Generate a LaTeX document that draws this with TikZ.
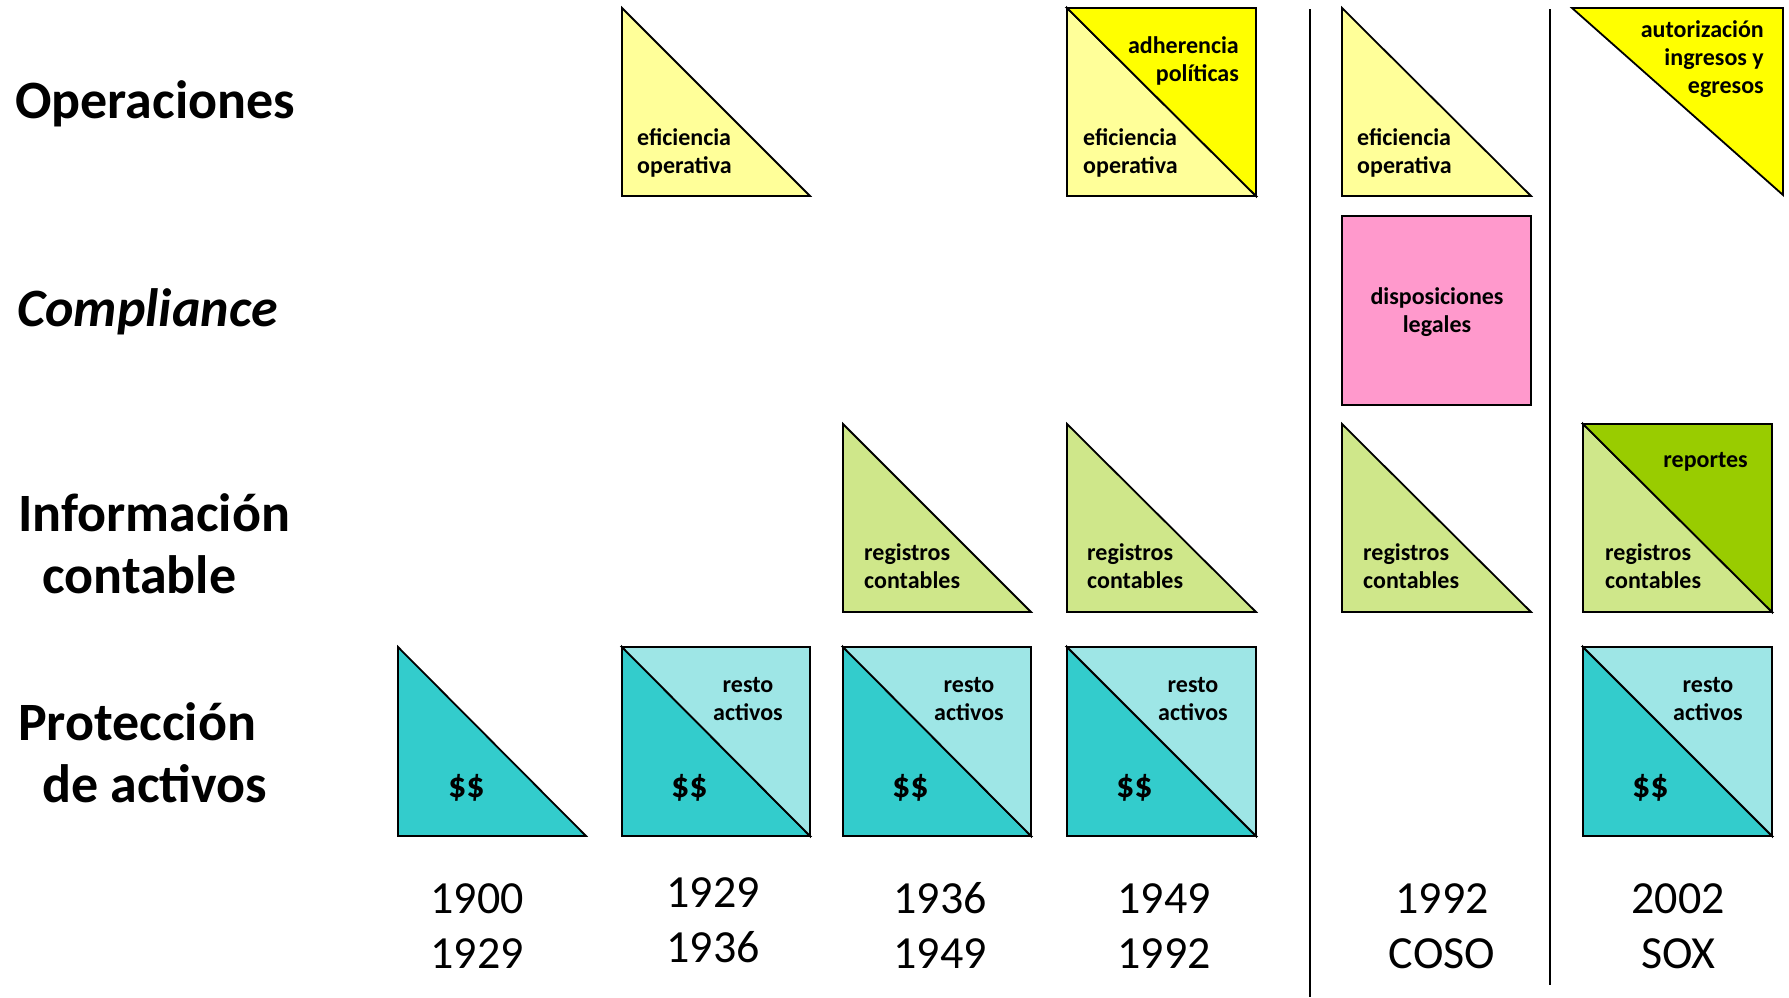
\documentclass[tikz,border=0pt]{standalone}
\usepackage{fontspec}
\setmainfont{Carlito}
\definecolor{lyellow}{HTML}{FFFF99}
\definecolor{yyellow}{HTML}{FFFF00}
\definecolor{ppink}{HTML}{FF99CC}
\definecolor{lgreen}{HTML}{CFE78A}
\definecolor{dgreen}{HTML}{99CC00}
\definecolor{teal1}{HTML}{33CCCC}
\definecolor{lteal}{HTML}{9EE6E6}
\tikzset{
  box/.style={draw=black, line width=1.8pt},
  lbl/.style={font=\fontsize{54}{62}\selectfont\bfseries, inner sep=0pt, anchor=base west, align=left},
  intxt/.style={font=\fontsize{24}{28}\selectfont\bfseries, inner sep=0pt},
  yr/.style={font=\fontsize{46}{55}\selectfont, inner sep=0pt, anchor=base, align=center},
  money/.style={font=\fontsize{36}{40}\selectfont\bfseries, inner sep=0pt, anchor=base west},
  sep/.style={draw=black, line width=1.6pt},
}
% lower-left triangle: L, T, R, B, colour
\newcommand\LoTri[5]{\filldraw[box, fill=#5] (#1,#2) -- (#1,#4) -- (#3,#4) -- cycle;}
% upper-right triangle: L, T, R, B, colour
\newcommand\UpTri[5]{\filldraw[box, fill=#5] (#1,#2) -- (#3,#2) -- (#3,#4) -- cycle;}
\begin{document}
\begin{tikzpicture}[x=1pt, y=-1pt]
\useasboundingbox (0,0) rectangle (1789,997);
\fill[white] (0,0) rectangle (1789,997);

% row labels (anchor = baseline of last line)
\node[lbl] (lop) at (15,118) {Operaciones};
\node[lbl] (lco) at (17,326) {\itshape Compliance};
\node[lbl] (lin) at (18,593) {Información\\\hspace*{24pt}contable};
\node[lbl] (lpr) at (18,802) {Protección\\\hspace*{24pt}de activos};

% separators
\coordinate (s1a) at (1310,9);
\coordinate (s1b) at (1310,997);
\coordinate (s2a) at (1550,9);
\coordinate (s2b) at (1550,985);
\draw[sep] (s1a) -- (s1b);
\draw[sep] (s2a) -- (s2b);

% ---- Operaciones row (T=8, B=196)
\LoTri{622}{8}{810}{196}{lyellow}
\node[intxt, anchor=base west, align=left] (op2) at (637,173) {eficiencia\\operativa};
\LoTri{1067}{8}{1256}{196}{lyellow}
\UpTri{1067}{8}{1256}{196}{yyellow}
\node[intxt, anchor=base west, align=left] (op4) at (1083,173) {eficiencia\\operativa};
\node[intxt, anchor=base east, align=right] (op4b) at (1239,81) {adherencia\\políticas};
\LoTri{1342}{8}{1531}{196}{lyellow}
\node[intxt, anchor=base west, align=left] (op5) at (1357,173) {eficiencia\\operativa};
\UpTri{1572}{8}{1783}{195}{yyellow}
\node[intxt, anchor=base east, align=right] (op6) at (1764,93) {autorización\\ingresos y\\egresos};

% ---- Compliance row
\filldraw[box, fill=ppink] (1342,216) rectangle (1531,405);
\node[intxt, anchor=base, align=center] (co5) at (1437,332) {disposiciones\\legales};

% ---- Informacion contable row (T=424, B=612)
\LoTri{843}{424}{1031}{612}{lgreen}
\node[intxt, anchor=base west, align=left] (in3) at (864,588) {registros\\contables};
\LoTri{1067}{424}{1256}{612}{lgreen}
\node[intxt, anchor=base west, align=left] (in4) at (1087,588) {registros\\contables};
\LoTri{1342}{424}{1531}{612}{lgreen}
\node[intxt, anchor=base west, align=left] (in5) at (1363,588) {registros\\contables};
\LoTri{1583}{424}{1772}{612}{lgreen}
\UpTri{1583}{424}{1772}{612}{dgreen}
\node[intxt, anchor=base west, align=left] (in6) at (1605,588) {registros\\contables};
\node[intxt, anchor=base east] (in6b) at (1748,467) {reportes};

% ---- Proteccion de activos row (T=647, B=836)
\LoTri{398}{647}{586}{836}{teal1}
\node[money] (pr1) at (448,797) {\$\$};
\LoTri{622}{647}{810}{836}{teal1}
\UpTri{622}{647}{810}{836}{lteal}
\node[money] (pr2) at (671,797) {\$\$};
\node[intxt, anchor=base, align=center] (pr2b) at (748,720) {resto\\activos};
\LoTri{843}{647}{1031}{836}{teal1}
\UpTri{843}{647}{1031}{836}{lteal}
\node[money] (pr3) at (892,797) {\$\$};
\node[intxt, anchor=base, align=center] (pr3b) at (969,720) {resto\\activos};
\LoTri{1067}{647}{1256}{836}{teal1}
\UpTri{1067}{647}{1256}{836}{lteal}
\node[money] (pr4) at (1116,797) {\$\$};
\node[intxt, anchor=base, align=center] (pr4b) at (1193,720) {resto\\activos};
\LoTri{1583}{647}{1772}{836}{teal1}
\UpTri{1583}{647}{1772}{836}{lteal}
\node[money] (pr6) at (1632,797) {\$\$};
\node[intxt, anchor=base, align=center] (pr6b) at (1708,720) {resto\\activos};

% ---- years
\node[yr] (y1) at (477,968) {1900\\1929};
\node[yr] (y2) at (713,962) {1929\\1936};
\node[yr] (y3) at (940,968) {1936\\1949};
\node[yr] (y4) at (1164,968) {1949\\1992};
\node[yr] (y5) at (1442,968) {1992\\COSO};
\node[yr] (y6) at (1678,968) {2002\\SOX};
\end{tikzpicture}
\end{document}
